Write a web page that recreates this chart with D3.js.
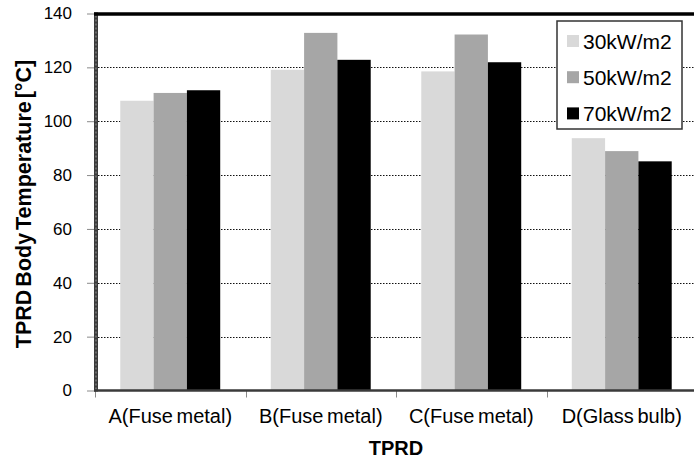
<!DOCTYPE html>
<html>
<head>
<meta charset="utf-8">
<script src="https://cdn.jsdelivr.net/npm/d3@7"></script>
<style>
  html, body { margin: 0; padding: 0; background: #fff; }
  svg { display: block; font-family: "Liberation Sans", Arial, sans-serif; }
</style>
</head>
<body>
<svg id="chart" width="694" height="461"></svg>
<script>
const categories = ["A(Fuse metal)", "B(Fuse metal)", "C(Fuse metal)", "D(Glass bulb)"];
const seriesNames = ["30kW/m2", "50kW/m2", "70kW/m2"];
const values30 = [107.6, 119.1, 118.5, 93.7];
const values50 = [110.5, 132.8, 132.2, 88.9];
const values70 = [111.5, 122.8, 121.9, 85.1];
const yTicks = [0, 20, 40, 60, 80, 100, 120, 140];
const seriesColors = ["#d9d9d9", "#a6a6a6", "#000000"];

(function () {
const series = [values30, values50, values70];
const svg = d3.select("#chart");

const pLeft = 95, pRight = 697, pTop = 13.5, pBottom = 390.5;

const x = d3.scaleBand().domain(categories).range([pLeft, pRight]).paddingInner(0.336).paddingOuter(0.168);
const xs = d3.scaleBand().domain(seriesNames).range([0, x.bandwidth()]);
const y = d3.scaleLinear().domain([0, 140]).range([pBottom, pTop]);

// gridlines
svg.append("g").selectAll("line").data(yTicks.filter(t => t > 0 && t < 140)).join("line")
  .attr("x1", pLeft + 3).attr("x2", 694)
  .attr("y1", d => Math.round(y(d)) + 0.5).attr("y2", d => Math.round(y(d)) + 0.5)
  .attr("stroke", "#111").attr("stroke-width", 1).attr("stroke-dasharray", "1.5,1.5");

// bars
const groups = svg.append("g").selectAll("g").data(categories).join("g")
  .attr("transform", d => `translate(${x(d)},0)`);
groups.selectAll("rect").data((d, i) => seriesNames.map((s, j) => ({ s, v: series[j][i], j }))).join("rect")
  .attr("x", d => xs(d.s)).attr("width", xs.bandwidth())
  .attr("y", d => y(d.v)).attr("height", d => y(0) - y(d.v))
  .attr("fill", d => seriesColors[d.j]);

// y axis
const yAxis = d3.axisLeft(y).tickValues(yTicks).tickSize(7).tickPadding(15);
const gy = svg.append("g").attr("transform", `translate(${pLeft - 1},0)`).call(yAxis);
gy.select(".domain").remove();
gy.selectAll(".tick line").attr("stroke", "#8a8a8a");
gy.selectAll(".tick text").attr("font-size", 17).attr("fill", "#000")
  .attr("font-family", "'Liberation Sans', Arial, sans-serif");

// x axis
const xTickPos = d3.scaleLinear().domain([0, categories.length]).range([pLeft, pRight]);
const xAxis = d3.axisBottom(x).tickSize(0).tickPadding(18);
const gx = svg.append("g").attr("transform", `translate(0,${pBottom})`).call(xAxis);
gx.select(".domain").remove();
gx.selectAll(".tick text").attr("font-size", 20).attr("fill", "#000").attr("word-spacing", -2)
  .attr("font-family", "'Liberation Sans', Arial, sans-serif");
svg.append("g").selectAll("line").data(d3.range(categories.length + 1)).join("line")
  .attr("x1", d => Math.round(xTickPos(d)) + 0.5).attr("x2", d => Math.round(xTickPos(d)) + 0.5)
  .attr("y1", pBottom).attr("y2", pBottom + 7)
  .attr("stroke", "#8a8a8a");

// frame: left, top, bottom
svg.append("line").attr("x1", pLeft + 1).attr("x2", pLeft + 1).attr("y1", pTop - 1).attr("y2", pBottom + 1)
  .attr("stroke", "#3a3a3a").attr("stroke-width", 4);
svg.append("line").attr("x1", pLeft + 1).attr("x2", pLeft + 1).attr("y1", pTop + 2).attr("y2", pBottom - 1)
  .attr("stroke", "#9a9a9a").attr("stroke-width", 1).attr("stroke-dasharray", "2,2");
svg.append("line").attr("x1", pLeft - 1).attr("x2", 694).attr("y1", pTop + 0.5).attr("y2", pTop + 0.5)
  .attr("stroke", "#000").attr("stroke-width", 3.5);
svg.append("line").attr("x1", pLeft - 1).attr("x2", 694).attr("y1", pBottom).attr("y2", pBottom)
  .attr("stroke", "#3a3a3a").attr("stroke-width", 2.5);

// axis titles
svg.append("text").attr("x", (pLeft + pRight) / 2).attr("y", 455)
  .attr("text-anchor", "middle").attr("font-size", 20).attr("font-weight", "bold").text("TPRD");
svg.append("text").attr("transform", `translate(31,204) rotate(-90)`)
  .attr("text-anchor", "middle").attr("font-size", 21.5).attr("font-weight", "bold")
  .attr("word-spacing", -3)
  .text("TPRD Body Temperature [°C]");

// legend
const lg = svg.append("g");
lg.append("rect").attr("x", 557).attr("y", 21).attr("width", 125).attr("height", 108)
  .attr("fill", "#fff").attr("stroke", "#333").attr("stroke-width", 1.5);
const items = lg.selectAll("g.item").data(seriesNames).join("g").attr("class", "item")
  .attr("transform", (d, i) => `translate(567,${41 + i * 36.2})`);
items.append("rect").attr("x", 0).attr("y", -6).attr("width", 12).attr("height", 12)
  .attr("fill", (d, i) => seriesColors[i]);
items.append("text").attr("x", 16).attr("y", 0).attr("dy", "0.36em")
  .attr("font-size", 21).attr("fill", "#000").text(d => d);
})();
</script>
</body>
</html>
